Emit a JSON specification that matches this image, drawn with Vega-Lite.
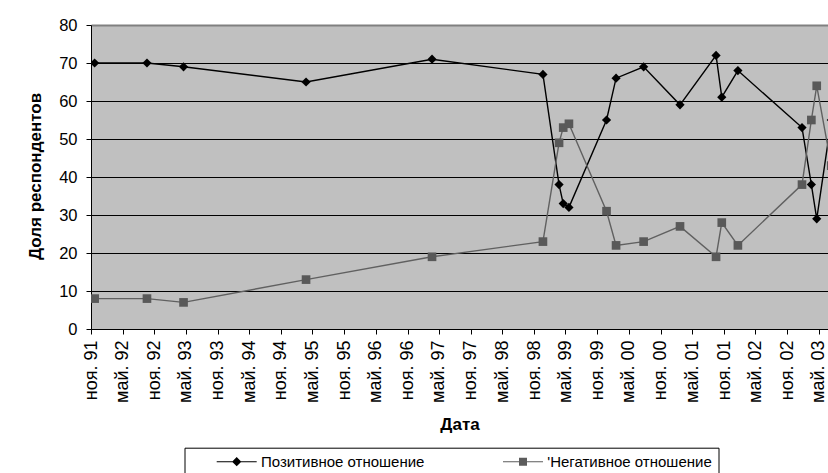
{
  "$schema": "https://vega.github.io/schema/vega-lite/v6.json",
  "autosize": {"type": "none"},
  "width": 737,
  "height": 304,
  "padding": {"left": 91, "top": 25, "right": 0, "bottom": 144},
  "background": "white",
  "config": {
    "font": "Liberation Sans",
    "view": {"fill": "#C0C0C0", "stroke": null},
    "legend": {
      "orient": "none",
      "legendX": 93.5,
      "legendY": 422.7,
      "direction": "horizontal",
      "columns": 2,
      "columnPadding": 52.3,
      "padding": 6,
      "strokeColor": "black",
      "fillColor": "white",
      "symbolSize": 256,
      "symbolStrokeWidth": 0,
      "symbolOpacity": 1,
      "symbolOffset": 38.2,
      "labelOffset": 16.3,
      "labelFont": "Liberation Sans",
      "labelFontSize": 15,
      "labelColor": "black",
      "labelLimit": 400,
      "titleOrient": "right",
      "titlePadding": 0,
      "titleFontSize": 15.5
    }
  },
  "data": {
    "values": [
      {"date": "1991-11-22", "series": "Позитивное отношение", "value": 70},
      {"date": "1992-09-19", "series": "Позитивное отношение", "value": 70},
      {"date": "1993-04-18", "series": "Позитивное отношение", "value": 69},
      {"date": "1995-03-26", "series": "Позитивное отношение", "value": 65},
      {"date": "1997-03-22", "series": "Позитивное отношение", "value": 71},
      {"date": "1998-12-22", "series": "Позитивное отношение", "value": 67},
      {"date": "1999-03-25", "series": "Позитивное отношение", "value": 38},
      {"date": "1999-04-18", "series": "Позитивное отношение", "value": 33},
      {"date": "1999-05-21", "series": "Позитивное отношение", "value": 32},
      {"date": "1999-12-24", "series": "Позитивное отношение", "value": 55},
      {"date": "2000-02-17", "series": "Позитивное отношение", "value": 66},
      {"date": "2000-07-25", "series": "Позитивное отношение", "value": 69},
      {"date": "2001-02-20", "series": "Позитивное отношение", "value": 59},
      {"date": "2001-09-16", "series": "Позитивное отношение", "value": 72},
      {"date": "2001-10-19", "series": "Позитивное отношение", "value": 61},
      {"date": "2002-01-20", "series": "Позитивное отношение", "value": 68},
      {"date": "2003-01-25", "series": "Позитивное отношение", "value": 53},
      {"date": "2003-03-20", "series": "Позитивное отношение", "value": 38},
      {"date": "2003-04-20", "series": "Позитивное отношение", "value": 29},
      {"date": "2003-07-13", "series": "Позитивное отношение", "value": 55},
      {"date": "1991-11-22", "series": "'Негативное отношение", "value": 8},
      {"date": "1992-09-19", "series": "'Негативное отношение", "value": 8},
      {"date": "1993-04-18", "series": "'Негативное отношение", "value": 7},
      {"date": "1995-03-26", "series": "'Негативное отношение", "value": 13},
      {"date": "1997-03-22", "series": "'Негативное отношение", "value": 19},
      {"date": "1998-12-22", "series": "'Негативное отношение", "value": 23},
      {"date": "1999-03-25", "series": "'Негативное отношение", "value": 49},
      {"date": "1999-04-18", "series": "'Негативное отношение", "value": 53},
      {"date": "1999-05-21", "series": "'Негативное отношение", "value": 54},
      {"date": "1999-12-24", "series": "'Негативное отношение", "value": 31},
      {"date": "2000-02-17", "series": "'Негативное отношение", "value": 22},
      {"date": "2000-07-25", "series": "'Негативное отношение", "value": 23},
      {"date": "2001-02-20", "series": "'Негативное отношение", "value": 27},
      {"date": "2001-09-16", "series": "'Негативное отношение", "value": 19},
      {"date": "2001-10-19", "series": "'Негативное отношение", "value": 28},
      {"date": "2002-01-20", "series": "'Негативное отношение", "value": 22},
      {"date": "2003-01-25", "series": "'Негативное отношение", "value": 38},
      {"date": "2003-03-20", "series": "'Негативное отношение", "value": 55},
      {"date": "2003-04-20", "series": "'Негативное отношение", "value": 64},
      {"date": "2003-07-13", "series": "'Негативное отношение", "value": 43}
    ]
  },
  "encoding": {
    "x": {
      "field": "date",
      "type": "temporal",
      "scale": {
        "domain": [{"year": 1991, "month": 11, "date": 1}, {"year": 2003, "month": 6, "date": 24}],
        "nice": false
      },
      "axis": {
        "title": "Дата",
        "titleFont": "Liberation Sans",
        "titleFontSize": 17,
        "titleFontWeight": "bold",
        "titleColor": "black",
        "titleBaseline": "alphabetic",
        "titleY": 100,
        "values": [
          {"year": 1991, "month": 11, "date": 1},
          {"year": 1992, "month": 5, "date": 1},
          {"year": 1992, "month": 11, "date": 1},
          {"year": 1993, "month": 5, "date": 1},
          {"year": 1993, "month": 11, "date": 1},
          {"year": 1994, "month": 5, "date": 1},
          {"year": 1994, "month": 11, "date": 1},
          {"year": 1995, "month": 5, "date": 1},
          {"year": 1995, "month": 11, "date": 1},
          {"year": 1996, "month": 5, "date": 1},
          {"year": 1996, "month": 11, "date": 1},
          {"year": 1997, "month": 5, "date": 1},
          {"year": 1997, "month": 11, "date": 1},
          {"year": 1998, "month": 5, "date": 1},
          {"year": 1998, "month": 11, "date": 1},
          {"year": 1999, "month": 5, "date": 1},
          {"year": 1999, "month": 11, "date": 1},
          {"year": 2000, "month": 5, "date": 1},
          {"year": 2000, "month": 11, "date": 1},
          {"year": 2001, "month": 5, "date": 1},
          {"year": 2001, "month": 11, "date": 1},
          {"year": 2002, "month": 5, "date": 1},
          {"year": 2002, "month": 11, "date": 1},
          {"year": 2003, "month": 5, "date": 1}
        ],
        "labelExpr": "(month(datum.value) == 10 ? 'ноя. ' : 'май. ') + timeFormat(datum.value, '%y')",
        "labelAngle": 270,
        "labelFontSize": 18,
        "labelColor": "black",
        "labelPadding": 6,
        "labelOverlap": false,
        "labelFlush": false,
        "labelBound": false,
        "tickSize": 5,
        "tickColor": "black",
        "domainColor": "black",
        "grid": false
      }
    },
    "y": {
      "field": "value",
      "type": "quantitative",
      "scale": {"domain": [0, 80], "nice": false},
      "axis": {
        "title": "Доля респондентов",
        "titleFont": "Liberation Sans",
        "titleFontSize": 17,
        "titleFontWeight": "bold",
        "titleColor": "black",
        "titleAngle": 270,
        "titleAlign": "center",
        "titleBaseline": "alphabetic",
        "titleX": -51,
        "titleY": 151,
        "values": [0, 10, 20, 30, 40, 50, 60, 70, 80],
        "labelFontSize": 16.5,
        "labelColor": "black",
        "labelPadding": 9,
        "tickSize": 5,
        "tickColor": "black",
        "domainColor": "black",
        "grid": true,
        "gridColor": {"condition": {"test": "datum.value == 80", "value": "#808080"}, "value": "black"},
        "gridWidth": {"condition": {"test": "datum.value == 80", "value": 2}, "value": 1},
        "gridOpacity": 1
      }
    }
  },
  "layer": [
    {
      "transform": [{"filter": {"field": "series", "equal": "Позитивное отношение"}}],
      "mark": {"type": "line", "clip": true, "strokeWidth": 1.4, "color": "#000000"}
    },
    {
      "transform": [{"filter": {"field": "series", "equal": "'Негативное отношение"}}],
      "mark": {"type": "line", "clip": true, "strokeWidth": 1.4, "color": "#606060"}
    },
    {
      "transform": [{"filter": {"field": "series", "equal": "Позитивное отношение"}}],
      "mark": {"type": "point", "clip": true, "shape": "diamond", "filled": true, "size": 85, "color": "#000000", "opacity": 1}
    },
    {
      "transform": [{"filter": {"field": "series", "equal": "'Негативное отношение"}}],
      "mark": {"type": "point", "clip": true, "shape": "square", "filled": true, "size": 75, "color": "#595959", "opacity": 1}
    },
    {
      "mark": {"type": "point", "clip": true, "filled": true, "opacity": 0},
      "encoding": {
        "color": {
          "field": "series",
          "type": "nominal",
          "title": "\u00a0\u00a0\u00a0\u00a0\u00a0\u00a0\u00a0\u00a0\u00a0\u00a0",
          "scale": {"domain": ["Позитивное отношение", "'Негативное отношение"], "range": ["#000000", "#5c5c5c"]}
        },
        "shape": {
          "field": "series",
          "type": "nominal",
          "title": "\u00a0\u00a0\u00a0\u00a0\u00a0\u00a0\u00a0\u00a0\u00a0\u00a0",
          "scale": {
            "domain": ["Позитивное отношение", "'Негативное отношение"],
            "range": [
              "M-2.5,-0.07H2.5V0.07H-2.5Z M0,-0.58L0.58,0L0,0.58L-0.58,0Z",
              "M-2.5,-0.07H2.5V0.07H-2.5Z M-0.5,-0.5H0.5V0.5H-0.5Z"
            ]
          }
        }
      }
    }
  ]
}
